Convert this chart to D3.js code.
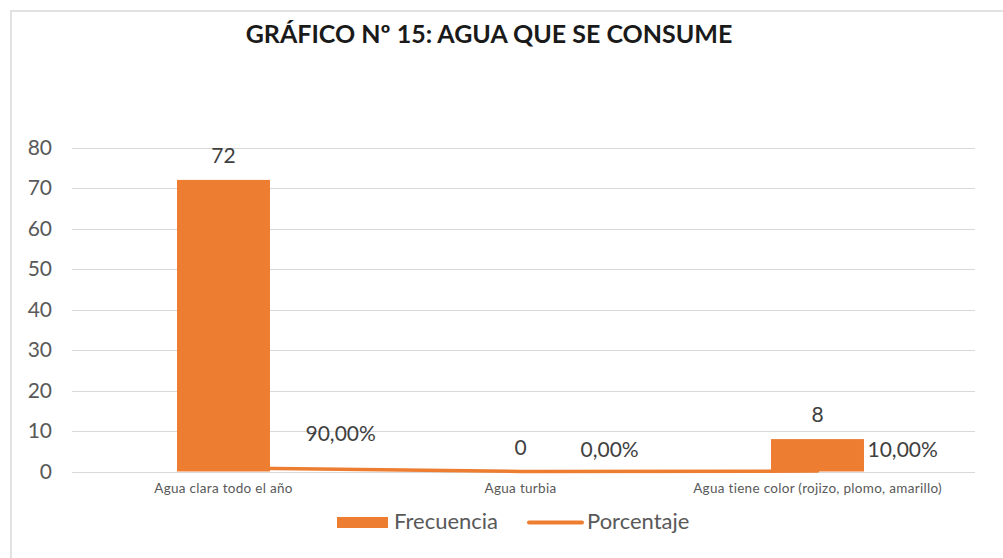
<!DOCTYPE html>
<html>
<head>
<meta charset="utf-8">
<script src="https://cdn.jsdelivr.net/npm/d3@7"></script>
<style>
  body { margin: 0; background: #fff; }
  svg { display: block; font-family: Lato, "Open Sans", sans-serif; }
</style>
</head>
<body>
<div id="chart"></div>
<script>
// data
var categories = ["Agua clara todo el año", "Agua turbia", "Agua tiene color (rojizo, plomo, amarillo)"];
var frecuencia = [72, 0, 8];
var porcentaje = [0.9, 0, 0.1];
var yTicks = [0, 10, 20, 30, 40, 50, 60, 70, 80];
var seriesNames = ["Frecuencia", "Porcentaje"];

// label nudges for the percentage labels (layout only)
var pctShift = [[82, -27], [60, -14.5], [50, -14]];

var width = 1003, height = 558;
var orange = "#ED7D31";
var grey = "#595959";

var svg = d3.select("#chart").append("svg")
    .attr("width", width)
    .attr("height", height);

// chart frame
svg.append("rect")
    .attr("x", 11).attr("y", 11)
    .attr("width", 1100).attr("height", 600)
    .attr("fill", "none")
    .attr("stroke", "#d9d9d9")
    .attr("stroke-width", 1.5);

svg.append("text")
    .attr("x", 489).attr("y", 43)
    .attr("text-anchor", "middle")
    .style("font-size", "25px")
    .style("font-weight", "bold")
    .style("fill", "#1a1a1a")
    .text("GRÁFICO Nº 15: AGUA QUE SE CONSUME");

var x = d3.scaleBand()
    .domain(categories)
    .range([75, 966])
    .paddingInner(0.687)
    .paddingOuter(0.3435);

var y = d3.scaleLinear()
    .domain([0, 80])
    .range([471.5, 147.5]);

// gridlines
svg.append("g")
    .selectAll("line")
    .data(yTicks)
    .enter()
    .append("line")
    .attr("x1", 72).attr("x2", 975)
    .attr("y1", function(d) { return Math.round(y(d)) + 0.5; })
    .attr("y2", function(d) { return Math.round(y(d)) + 0.5; })
    .attr("stroke", "#d9d9d9")
    .attr("stroke-width", 1);

// y axis labels
var yAxis = d3.axisLeft(y).tickValues(yTicks).tickSize(0).tickPadding(0);
var gy = svg.append("g")
    .attr("transform", "translate(52,0)")
    .call(yAxis);
gy.select(".domain").remove();
gy.selectAll("text")
    .style("font-size", "21px")
    .style("font-family", "Lato, sans-serif")
    .style("fill", grey);

// x axis labels
var xAxis = d3.axisBottom(x).tickSize(0).tickPadding(0);
var gx = svg.append("g")
    .attr("transform", "translate(0,483)")
    .call(xAxis);
gx.select(".domain").remove();
gx.selectAll("text")
    .style("font-size", "13.5px")
    .style("letter-spacing", "0.3px")
    .style("font-family", "Lato, sans-serif")
    .style("fill", grey);

// porcentaje line (same axis)
var line = d3.line()
    .x(function(d, i) { return x(categories[i]) + x.bandwidth() / 2; })
    .y(function(d) { return y(d); });

svg.append("path")
    .datum(porcentaje)
    .attr("d", line)
    .attr("fill", "none")
    .attr("stroke", orange)
    .attr("stroke-width", 3.5)
    .attr("stroke-linecap", "round");

// bars
svg.selectAll(".bar")
    .data(frecuencia)
    .enter()
    .append("rect")
    .attr("class", "bar")
    .attr("x", function(d, i) { return x(categories[i]); })
    .attr("width", x.bandwidth())
    .attr("y", function(d) { return y(d); })
    .attr("height", function(d) { return y(0) - y(d); })
    .attr("fill", orange);

// bar labels
svg.selectAll(".barlabel")
    .data(frecuencia)
    .enter()
    .append("text")
    .attr("class", "barlabel")
    .attr("x", function(d, i) { return x(categories[i]) + x.bandwidth() / 2; })
    .attr("y", function(d) { return y(d) - 17; })
    .attr("text-anchor", "middle")
    .style("font-size", "21px")
    .style("fill", "#404040")
    .text(function(d) { return d; });

// percentage labels
var fmt = function(v) { return (v * 100).toFixed(2).replace(".", ",") + "%"; };
svg.selectAll(".pctlabel")
    .data(porcentaje)
    .enter()
    .append("text")
    .attr("class", "pctlabel")
    .attr("x", function(d, i) { return x(categories[i]) + x.bandwidth() / 2 + pctShift[i][0]; })
    .attr("y", function(d, i) { return y(d) + pctShift[i][1]; })
    .style("font-size", "21px")
    .style("fill", "#404040")
    .text(fmt);

// legend
var legend = svg.append("g");
legend.append("rect")
    .attr("x", 337).attr("y", 517)
    .attr("width", 51).attr("height", 11)
    .attr("fill", orange);
legend.append("text")
    .attr("x", 394).attr("y", 529)
    .style("font-size", "22px")
    .style("fill", grey)
    .text(seriesNames[0]);
legend.append("line")
    .attr("x1", 529).attr("x2", 582)
    .attr("y1", 522.5).attr("y2", 522.5)
    .attr("stroke", orange)
    .attr("stroke-width", 4)
    .attr("stroke-linecap", "round");
legend.append("text")
    .attr("x", 587).attr("y", 529)
    .style("font-size", "22px")
    .style("fill", grey)
    .text(seriesNames[1]);
</script>
</body>
</html>
